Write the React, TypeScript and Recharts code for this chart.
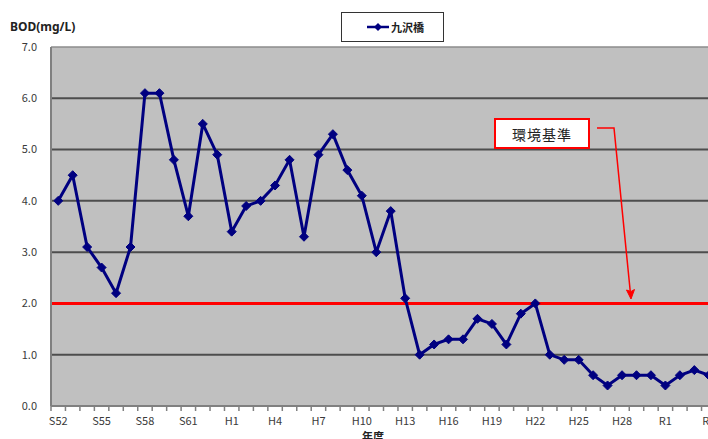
import React from "react";
import { LineChart, Line, XAxis, YAxis, CartesianGrid, ReferenceLine } from "recharts";

// 年度 (S52 = 1977 ... R4 = 2022)
const years = [
  "S52", "S53", "S54", "S55", "S56", "S57", "S58", "S59", "S60", "S61", "S62", "S63",
  "H1", "H2", "H3", "H4", "H5", "H6", "H7", "H8", "H9", "H10",
  "H11", "H12", "H13", "H14", "H15", "H16", "H17", "H18", "H19", "H20",
  "H21", "H22", "H23", "H24", "H25", "H26", "H27", "H28", "H29", "H30",
  "R1", "R2", "R3", "R4",
];

// BOD 年平均値 (mg/L) 九沢橋
const bod = [
  4.0, 4.5, 3.1, 2.7, 2.2, 3.1, 6.1, 6.1, 4.8, 3.7, 5.5, 4.9,
  3.4, 3.9, 4.0, 4.3, 4.8, 3.3, 4.9, 5.3, 4.6, 4.1,
  3.0, 3.8, 2.1, 1.0, 1.2, 1.3, 1.3, 1.7, 1.6, 1.2,
  1.8, 2.0, 1.0, 0.9, 0.9, 0.6, 0.4, 0.6, 0.6, 0.6,
  0.4, 0.6, 0.7, 0.6,
];

const yTicks = [0, 1, 2, 3, 4, 5, 6, 7];
const gridValues = [1, 2, 3, 4, 5, 6];
const standard = 2.0;
const seriesName = "九沢橋";
const standardLabel = "環境基準";
const yTitle = "BOD(mg/L)";
const xTitle = "年度";

const data = years.map((year, i) => ({ year, bod: bod[i] }));

const CHART_W = 720;
const CHART_H = 439;
const Y_AXIS_W = 51;
const MARGIN = { top: 47, right: 4, bottom: 0, left: 0 };
const BAND = (CHART_W - MARGIN.right - MARGIN.left - Y_AXIS_W) / years.length;

const NAVY = "#000080";
const tickFont = "'Noto Sans CJK JP', 'DejaVu Sans', sans-serif";

const Diamond = (props: any) => {
  const { cx, cy } = props;
  if (cx == null || cy == null) return null;
  const r = 4.5;
  return (
    <path
      d={`M${cx},${cy - r} L${cx + r},${cy} L${cx},${cy + r} L${cx - r},${cy} Z`}
      fill={NAVY}
      stroke={NAVY}
      strokeWidth={1}
    />
  );
};

// every category gets a boundary tick, every third one gets a label
const XTick = (props: any) => {
  const { x, y, index, payload } = props;
  const bx = x - BAND / 2;
  return (
    <g>
      <line x1={bx} x2={bx} y1={y} y2={y + 5} stroke="#808080" strokeWidth={1.5} />
      {index % 3 === 0 && (
        <text
          x={x}
          y={y + 19}
          textAnchor="middle"
          fontSize={11}
          fontFamily={tickFont}
          fill="#3a3a3a"
        >
          {payload.value}
        </text>
      )}
    </g>
  );
};

const App = () => {
  return (
    <div
      style={{
        position: "fixed",
        left: 0,
        top: 0,
        width: 708,
        height: 439,
        overflow: "hidden",
        background: "#fff",
        fontFamily: tickFont,
      }}
    >
      <LineChart width={CHART_W} height={CHART_H} data={data} margin={MARGIN}>
        <CartesianGrid
          fill="#c0c0c0"
          vertical={false}
          horizontalValues={gridValues}
          stroke="#404040"
          strokeWidth={2}
          strokeOpacity={0.9}
        />
        <ReferenceLine y={7} stroke="#8c8c8c" strokeWidth={1.5} />
        <XAxis
          dataKey="year"
          height={33}
          interval={0}
          padding={{ left: BAND / 2, right: BAND / 2 }}
          tickLine={false}
          tickSize={0}
          tickMargin={0}
          axisLine={{ stroke: "#808080", strokeWidth: 2 }}
          tick={(p: any) => <XTick {...p} />}
        />
        <YAxis
          width={Y_AXIS_W}
          domain={[0, 7]}
          ticks={yTicks}
          interval={0}
          tickLine={false}
          tickSize={0}
          tickMargin={14}
          axisLine={{ stroke: "#808080", strokeWidth: 2 }}
          tickFormatter={(v: number) => v.toFixed(1)}
          tick={{ fontSize: 11, fill: "#3a3a3a", fontFamily: tickFont }}
        />
        <ReferenceLine y={standard} stroke="#ff0000" strokeWidth={3} />
        <Line
          type="linear"
          dataKey="bod"
          name={seriesName}
          stroke={NAVY}
          strokeWidth={3}
          dot={<Diamond />}
          activeDot={false}
          isAnimationActive={false}
        />
      </LineChart>

      {/* y axis title */}
      <div
        style={{
          position: "absolute",
          left: 10,
          top: 18,
          fontSize: 12,
          fontWeight: 700,
          color: "#222",
          fontFamily: "'Noto Sans', sans-serif",
        }}
      >
        {yTitle}
      </div>

      {/* legend */}
      <div
        style={{
          position: "absolute",
          left: 341,
          top: 12,
          width: 103,
          height: 30,
          boxSizing: "border-box",
          border: "1.5px solid #333",
          background: "#fff",
          display: "flex",
          alignItems: "center",
        }}
      >
        <svg width={24} height={10} style={{ marginLeft: 24 }}>
          <line x1={1} x2={23} y1={5} y2={5} stroke={NAVY} strokeWidth={2.5} />
          <path d="M12,1 L16,5 L12,9 L8,5 Z" fill={NAVY} />
        </svg>
        <span style={{ fontSize: 11, fontWeight: 700, color: "#222", marginLeft: 1 }}>
          {seriesName}
        </span>
      </div>

      {/* 環境基準 callout */}
      <div
        style={{
          position: "absolute",
          left: 494,
          top: 118,
          width: 96,
          height: 31,
          boxSizing: "border-box",
          border: "2px solid #ff0000",
          background: "#fff",
          display: "flex",
          alignItems: "center",
          justifyContent: "center",
          fontSize: 14,
          color: "#222",
          letterSpacing: 1,
        }}
      >
        {standardLabel}
      </div>
      <svg
        width={708}
        height={439}
        style={{ position: "absolute", left: 0, top: 0, pointerEvents: "none" }}
      >
        <polyline
          points="597,128 614,128 630.2,291"
          fill="none"
          stroke="#ff0000"
          strokeWidth={1.5}
        />
        <path d="M631,299 L634.5,289.5 L631,291.5 L626.5,290 Z" fill="#ff0000" stroke="#ff0000" strokeWidth={1} />
      </svg>

      {/* x axis title */}
      <div
        style={{
          position: "absolute",
          left: 362,
          top: 428,
          fontSize: 11,
          fontWeight: 700,
          color: "#222",
        }}
      >
        {xTitle}
      </div>
    </div>
  );
};

export default App;
